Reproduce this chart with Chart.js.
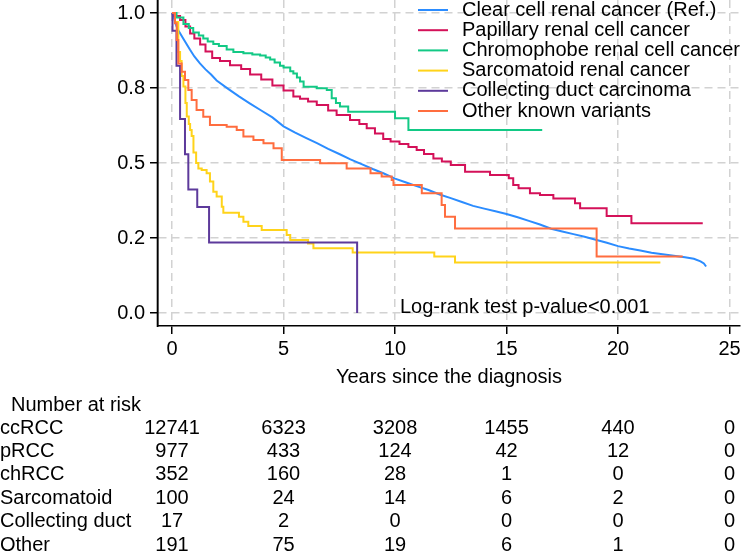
<!DOCTYPE html>
<html>
<head>
<meta charset="utf-8">
<title>Kaplan-Meier by histology</title>
<script src="https://cdn.jsdelivr.net/npm/chart.js@4.4.0/dist/chart.umd.min.js"></script>
<style>
    html, body { margin: 0; padding: 0; background: #fff; }
    #wrap { width: 743px; height: 553px; position: relative; }
</style>
</head>
<body>
<div id="wrap"><canvas id="kmChart"></canvas></div>
<script>
// Survival curves (years, survival proportion)

const seriesNames = [
    'Clear cell renal cancer (Ref.)',
    'Papillary renal cell cancer',
    'Chromophobe renal cell cancer',
    'Sarcomatoid renal cancer',
    'Collecting duct carcinoma',
    'Other known variants'
];
const seriesColors = ['#2b8cff', '#d41159', '#12c985', '#ffd31a', '#5d3a9b', '#ff6d3f'];

const ccTime = [0, 0.1, 0.2, 0.3, 0.5, 0.8, 1.0, 1.25, 1.5, 1.75, 2.0, 2.5, 3.0, 3.5, 4.0, 4.5, 5.0, 5.5, 6.0, 6.5,
    7.0, 7.5, 8.0, 8.5, 9.0, 9.5, 10.0, 10.5, 11.0, 11.5, 12.0, 12.5, 13.0, 13.5, 14.0, 14.5, 15.0, 15.5, 16.0, 16.5,
    17.0, 17.5, 18.0, 18.5, 19.0, 19.5, 20.0, 20.5, 21.0, 21.5, 22.0, 22.5, 23.0, 23.4, 23.7, 23.85, 23.95];
const ccSurv = [1.0, 0.98, 0.955, 0.94, 0.915, 0.878, 0.855, 0.832, 0.812, 0.795, 0.775, 0.748, 0.722, 0.698, 0.675, 0.652, 0.622, 0.602, 0.584, 0.566,
    0.547, 0.53, 0.512, 0.496, 0.48, 0.465, 0.448, 0.435, 0.422, 0.41, 0.395, 0.383, 0.37, 0.357, 0.348, 0.339, 0.33, 0.319, 0.307, 0.295,
    0.281, 0.272, 0.263, 0.254, 0.244, 0.234, 0.223, 0.215, 0.208, 0.201, 0.196, 0.191, 0.186, 0.181, 0.172, 0.165, 0.155];

const papTime = [0, 0.1, 0.36, 0.6, 0.81, 1.0, 1.26, 1.5, 1.8, 2.15, 2.6, 3.1, 3.5, 4.0, 4.5, 5.0, 5.44, 5.74, 6.1, 6.49,
    7.0, 7.38, 7.98, 8.4, 8.73, 9.1, 9.47, 9.8, 10.2, 10.6, 10.97, 11.3, 11.72, 12.1, 12.5, 13.14, 14.26, 15.1, 15.3, 15.54,
    16.05, 16.5, 17.1, 18.07, 18.3, 19.49, 20.6, 23.8];
const papSurv = [1.0, 0.99, 0.977, 0.955, 0.932, 0.915, 0.895, 0.872, 0.85, 0.84, 0.826, 0.813, 0.795, 0.778, 0.758, 0.742, 0.722, 0.714, 0.705, 0.693,
    0.675, 0.66, 0.643, 0.63, 0.616, 0.598, 0.58, 0.572, 0.563, 0.553, 0.543, 0.53, 0.515, 0.505, 0.493, 0.471, 0.46, 0.449, 0.427, 0.416,
    0.399, 0.393, 0.382, 0.366, 0.349, 0.323, 0.299, 0.299];

const chrTime = [0, 0.2, 0.51, 0.75, 0.95, 1.2, 1.4, 1.6, 1.85, 2.1, 2.45, 2.75, 3.2, 3.6, 3.95, 4.2, 4.4, 4.6, 4.84, 5.0,
    5.3, 5.44, 5.6, 5.74, 5.9, 6.49, 6.94, 7.16, 7.35, 7.53, 7.9, 10.0, 10.6, 16.6];
const chrSurv = [1.0, 0.985, 0.963, 0.95, 0.935, 0.925, 0.915, 0.905, 0.897, 0.89, 0.878, 0.87, 0.866, 0.862, 0.858, 0.852, 0.845, 0.835, 0.824, 0.818,
    0.806, 0.798, 0.785, 0.772, 0.754, 0.749, 0.743, 0.716, 0.7, 0.688, 0.671, 0.649, 0.61, 0.61];

const sarTime = [0, 0.13, 0.28, 0.36, 0.43, 0.51, 0.6, 0.66, 0.75, 0.81, 0.88, 0.96, 1.08, 1.18, 1.33, 1.55, 1.7, 1.85, 2.0, 2.23,
    2.3, 3.0, 3.2, 3.42, 4.02, 5.14, 5.3, 6.1, 6.34, 8.1, 11.76, 12.69, 21.9];
const sarSurv = [1.0, 0.97, 0.87, 0.84, 0.79, 0.755, 0.7, 0.655, 0.63, 0.61, 0.59, 0.535, 0.5, 0.482, 0.477, 0.466, 0.438, 0.404, 0.388, 0.354,
    0.334, 0.321, 0.304, 0.29, 0.277, 0.26, 0.243, 0.232, 0.216, 0.202, 0.188, 0.168, 0.168];

const cdcTime = [0, 0.02, 0.2, 0.36, 0.58, 0.73, 1.13, 1.66, 8.3];
const cdcSurv = [1.0, 0.941, 0.824, 0.647, 0.529, 0.412, 0.353, 0.235, 0.0];

const othTime = [0, 0.13, 0.21, 0.28, 0.43, 0.58, 0.73, 0.88, 1.1, 1.4, 1.7, 2.45, 2.9, 3.2, 3.65, 4.1, 4.55, 4.92, 6.64, 7.83,
    8.9, 9.4, 9.85, 9.93, 11.2, 12.09, 12.24, 12.69, 19.04, 22.9];
const othSurv = [1.0, 0.966, 0.91, 0.832, 0.804, 0.777, 0.743, 0.71, 0.677, 0.654, 0.627, 0.621, 0.61, 0.588, 0.577, 0.566, 0.549, 0.51, 0.499, 0.482,
    0.466, 0.455, 0.443, 0.427, 0.399, 0.36, 0.321, 0.282, 0.188, 0.188];

// Axes
const xTickValues = [0, 5, 10, 15, 20, 25];
const yTickValues = [0, 0.25, 0.5, 0.75, 1];
const yTickLabels = ['0.0', '0.2', '0.5', '0.8', '1.0'];

// Number at risk table
const riskLabels = ['ccRCC', 'pRCC', 'chRCC', 'Sarcomatoid', 'Collecting duct', 'Other'];
const riskCcrcc = [12741, 6323, 3208, 1455, 440, 0];
const riskPrcc = [977, 433, 124, 42, 12, 0];
const riskChrcc = [352, 160, 28, 1, 0, 0];
const riskSarc = [100, 24, 14, 6, 2, 0];
const riskCdc = [17, 2, 0, 0, 0, 0];
const riskOther = [191, 75, 19, 6, 1, 0];
const riskRows = [riskCcrcc, riskPrcc, riskChrcc, riskSarc, riskCdc, riskOther];

const FONT = "'Liberation Sans', Arial, sans-serif";

function toPoints(times, surv) {
    return times.map((t, i) => ({ x: t, y: surv[i] }));
}

const curveData = [
    toPoints(ccTime, ccSurv),
    toPoints(papTime, papSurv),
    toPoints(chrTime, chrSurv),
    toPoints(sarTime, sarSurv),
    toPoints(cdcTime, cdcSurv),
    toPoints(othTime, othSurv)
];

// 'before' = run flat to the event time, then drop (Kaplan-Meier steps)
const datasets = curveData.map((pts, i) => ({
    label: seriesNames[i],
    data: pts,
    borderColor: seriesColors[i],
    backgroundColor: seriesColors[i],
    borderWidth: 2,
    pointRadius: 0,
    fill: false,
    stepped: i === 0 ? false : 'before',
    tension: 0,
    order: seriesNames.length - i
}));

// legend, log-rank note and the risk table are drawn on top
const overlayPlugin = {
    id: 'overlay',
    afterDraw(chart) {
        const ctx = chart.ctx;
        const xs = chart.scales.x;
        const ys = chart.scales.y;
        ctx.save();

        // y axis line
        const axisX = Math.round(ys.right) - 0.5;
        ctx.strokeStyle = '#000';
        ctx.lineWidth = 1.6;
        ctx.beginPath();
        ctx.moveTo(axisX, ys.top);
        ctx.lineTo(axisX, ys.bottom + 1);
        ctx.stroke();

        ctx.font = '20px ' + FONT;
        ctx.textBaseline = 'middle';
        ctx.fillStyle = '#000';

        // legend
        seriesNames.forEach((name, i) => {
            const y = 10 + i * 20.2;
            ctx.strokeStyle = seriesColors[i];
            ctx.lineWidth = 2;
            ctx.beginPath();
            ctx.moveTo(418, y);
            ctx.lineTo(448, y);
            ctx.stroke();
            ctx.textAlign = 'left';
            ctx.fillText(name, 462, y);
        });

        // log-rank test
        ctx.textAlign = 'left';
        ctx.fillText('Log-rank test p-value<0.001', 400, 307);

        // number at risk
        ctx.fillText('Number at risk', 11, 405);
        riskRows.forEach((row, r) => {
            const y = 428 + r * 23.4;
            ctx.textAlign = 'left';
            ctx.fillText(riskLabels[r], 0, y);
            ctx.textAlign = 'center';
            row.forEach((n, c) => {
                ctx.fillText(String(n), xs.getPixelForValue(xTickValues[c]), y);
            });
        });
        ctx.restore();
    }
};

const gridStyle = {
    color: '#d2d2d2',
    lineWidth: 1.5,
    drawTicks: true,
    tickLength: 8,
    tickColor: '#000',
    tickWidth: 1.5
};

new Chart(document.getElementById('kmChart'), {
    type: 'line',
    data: { datasets: datasets },
    plugins: [overlayPlugin],
    options: {
        responsive: true,
        maintainAspectRatio: false,
        animation: false,
        layout: { padding: { left: 0, top: 0, right: 3, bottom: 161 } },
        plugins: {
            legend: { display: false },
            tooltip: { enabled: false }
        },
        scales: {
            x: {
                type: 'linear',
                min: -0.63,
                max: 25.47,
                afterBuildTicks: (scale) => { scale.ticks = xTickValues.map(v => ({ value: v })); },
                afterFit: (scale) => {
                    scale.height = 66;
                    scale.paddingLeft = 0;
                    scale.paddingRight = 0;
                },
                border: { display: true, color: '#000', width: 1.5, dash: [8, 5] },
                grid: gridStyle,
                ticks: {
                    autoSkip: false,
                    maxRotation: 0,
                    padding: 3,
                    color: '#000',
                    font: { family: FONT, size: 20 },
                    callback: (value) => String(value)
                },
                title: {
                    display: true,
                    text: 'Years since the diagnosis',
                    color: '#000',
                    font: { family: FONT, size: 20 },
                    padding: { top: 0, bottom: 3 }
                }
            },
            y: {
                type: 'linear',
                min: -0.0433,
                max: 1.0433,
                afterBuildTicks: (scale) => { scale.ticks = yTickValues.map(v => ({ value: v })); },
                afterFit: (scale) => {
                    scale.width = 158;
                    scale.paddingTop = 0;
                    scale.paddingBottom = 0;
                },
                border: { display: true, color: '#000', width: 1.5, dash: [8, 5] },
                grid: gridStyle,
                ticks: {
                    autoSkip: false,
                    padding: 5,
                    color: '#000',
                    font: { family: FONT, size: 20 },
                    callback: (value, index) => yTickLabels[index]
                }
            }
        }
    }
});
</script>
</body>
</html>
